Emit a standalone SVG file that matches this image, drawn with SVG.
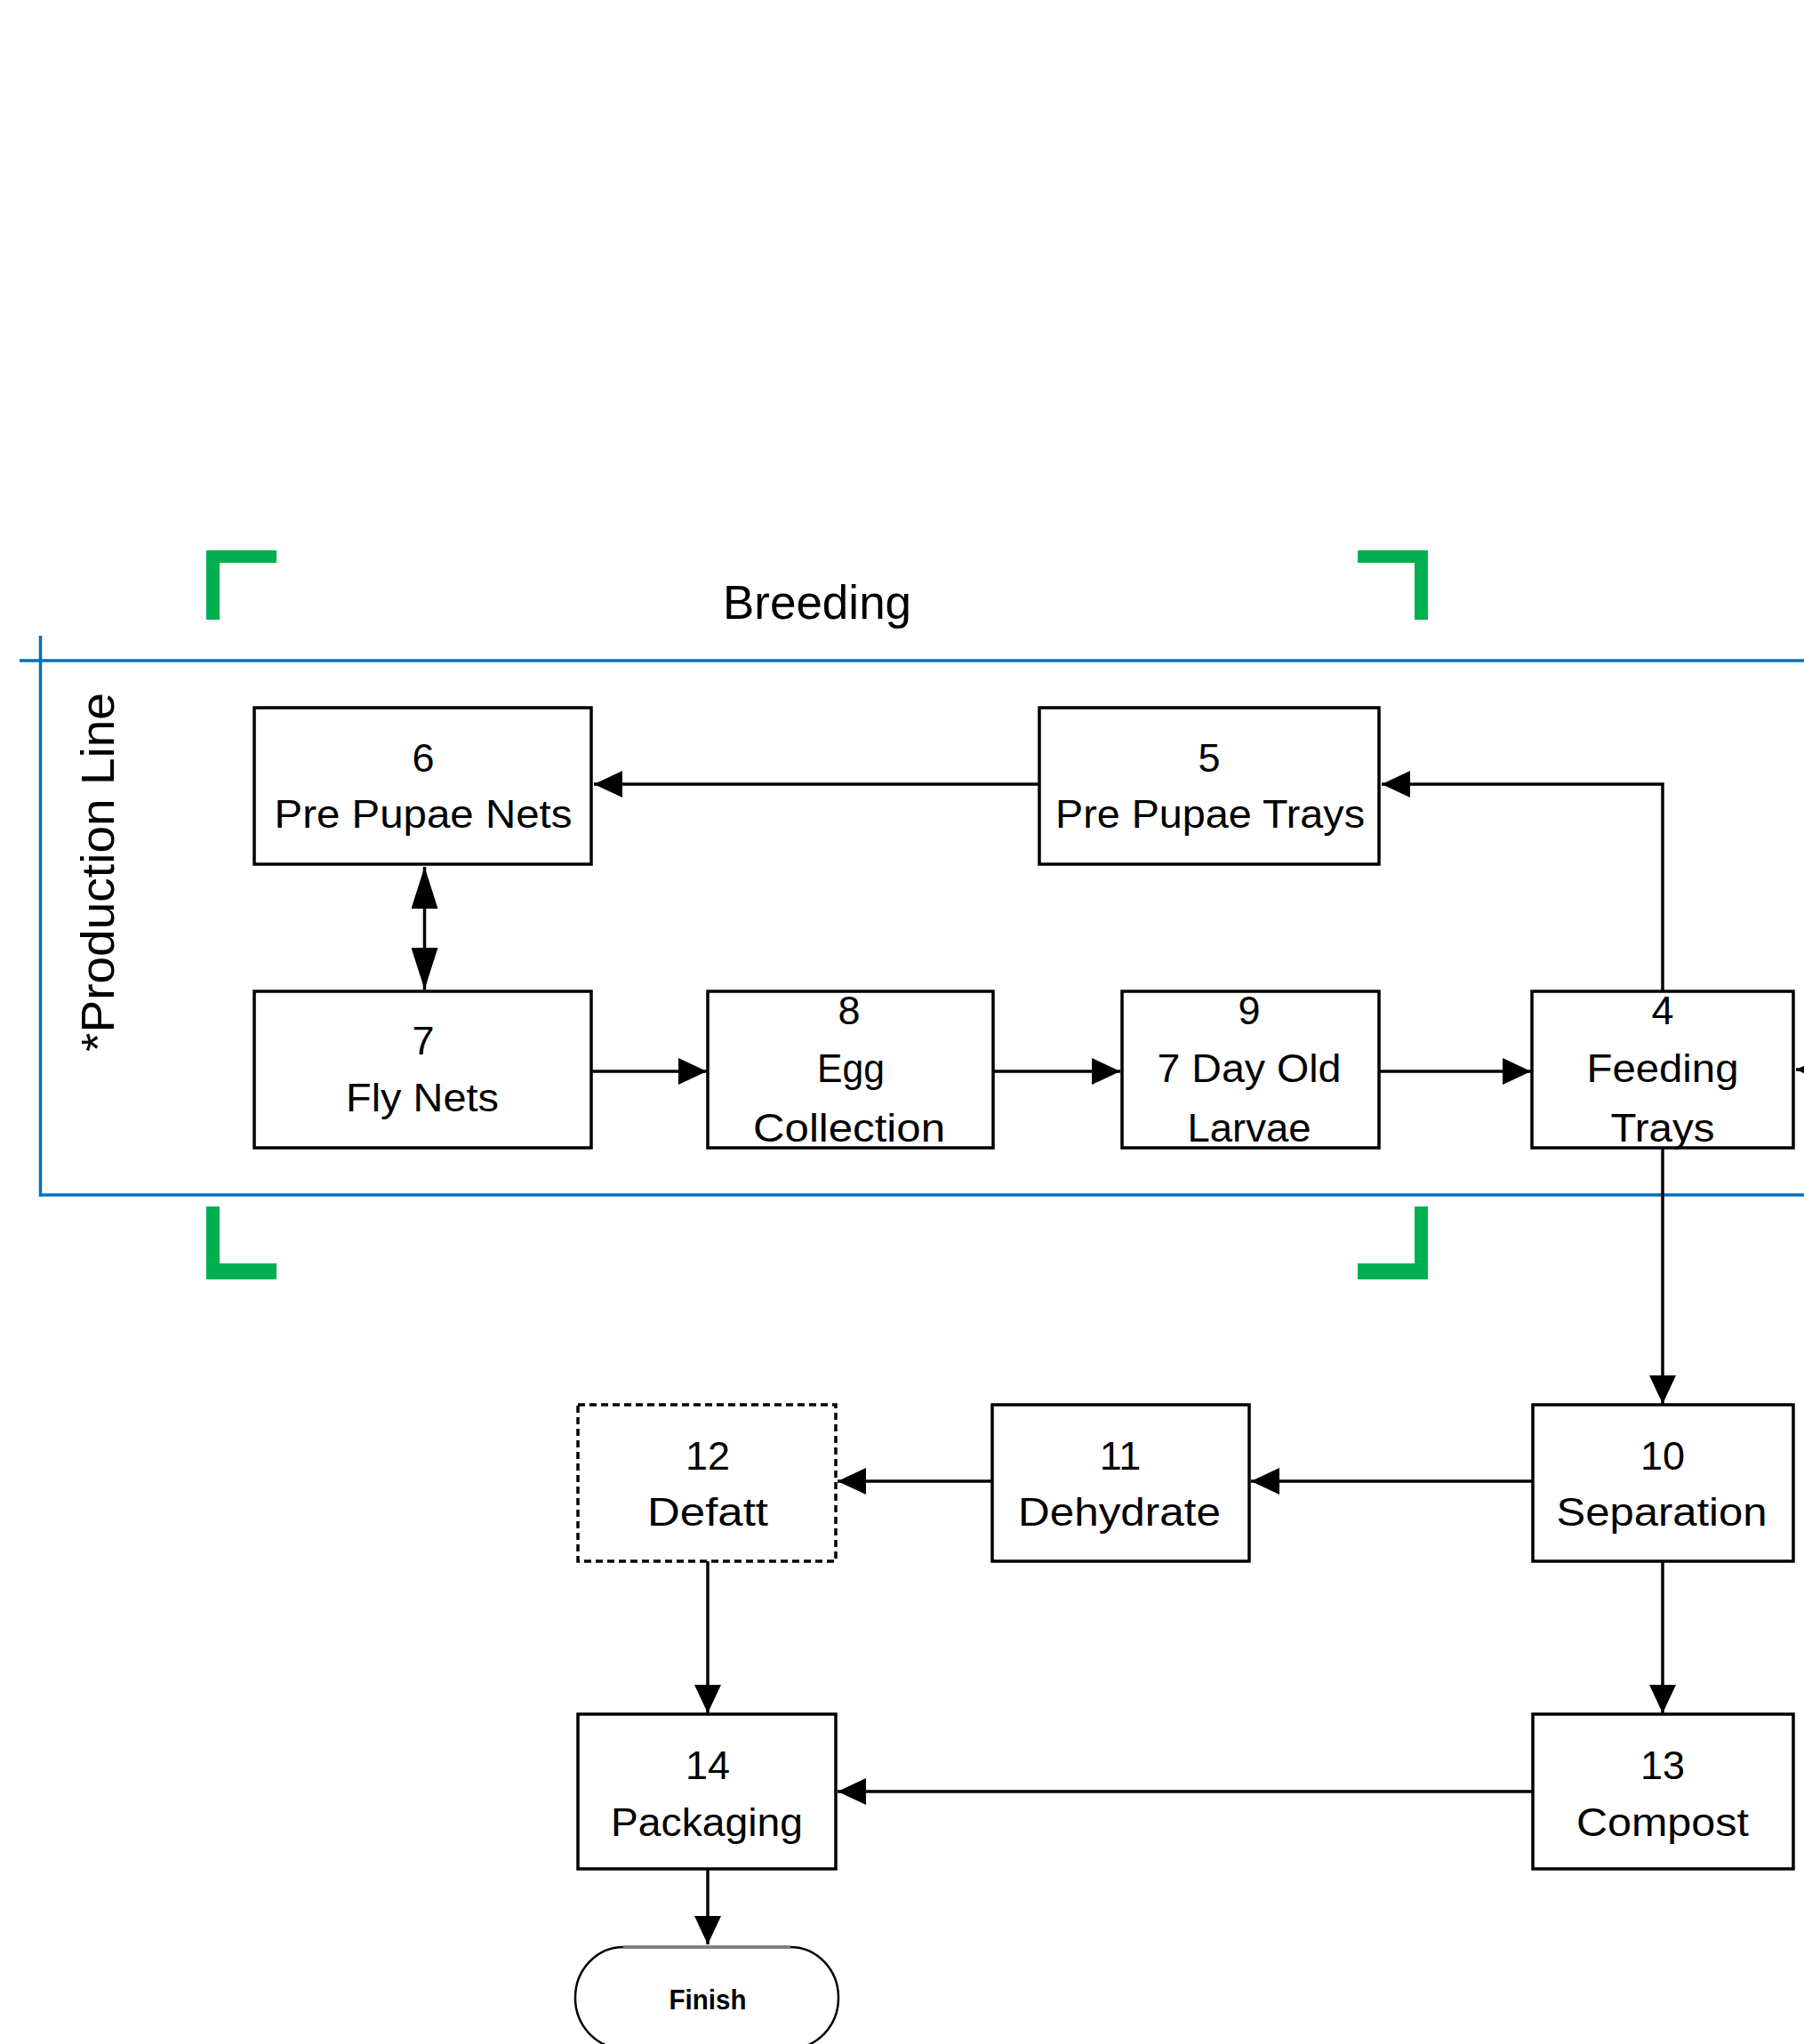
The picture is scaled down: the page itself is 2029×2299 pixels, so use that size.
<svg xmlns="http://www.w3.org/2000/svg" width="2029" height="2299" viewBox="0 0 2029 2299">
<style>
text{font-family:"Liberation Sans",Arial,sans-serif;fill:#000}
.node{fill:#fff;stroke:#000;stroke-width:3.5}
.dash{fill:#fff;stroke:#000;stroke-width:3.5;stroke-dasharray:8 5}
.lbl{font-size:45px;text-anchor:middle}
.con{fill:none;stroke:#000;stroke-width:3.5;marker-end:url(#ah)}
.blue{stroke:#0070C0;stroke-width:3.5;fill:none}
.green{fill:#00B050}
</style>
<defs>
<marker id="ah" markerUnits="userSpaceOnUse" viewBox="0 0 32 32" markerWidth="32" markerHeight="32" refX="32" refY="16" orient="auto">
<path d="M0,1 L32,16 L0,31 z" fill="#000"/>
</marker>
<marker id="ahl" markerUnits="userSpaceOnUse" viewBox="0 0 47 30" markerWidth="47" markerHeight="30" refX="47" refY="15" orient="auto-start-reverse">
<path d="M0,0 L47,15 L0,30 z" fill="#000"/>
</marker>
</defs>
<rect width="2029" height="2299" fill="#fff"/>

<g id="frame">
<line class="blue" x1="22" y1="743" x2="2029" y2="743"/>
<line class="blue" x1="45.5" y1="715" x2="45.5" y2="1346"/>
<line class="blue" x1="45.5" y1="1344" x2="2029" y2="1344"/>
<polygon class="green" points="232,619 311,619 311,633 247,633 247,697 232,697"/>
<polygon class="green" points="1606,619 1527,619 1527,633 1591,633 1591,697 1606,697"/>
<polygon class="green" points="232,1357 247,1357 247,1421 311,1421 311,1439 232,1439"/>
<polygon class="green" points="1606,1357 1591,1357 1591,1421 1527,1421 1527,1439 1606,1439"/>
<text x="919" y="696" font-size="53" text-anchor="middle">Breeding</text>
<text transform="translate(128,981) rotate(-90)" font-size="51" text-anchor="middle" textLength="404" lengthAdjust="spacingAndGlyphs">*Production Line</text>
</g>

<g id="connectors">
<line class="con" x1="1169" y1="882" x2="668" y2="882"/>
<path class="con" d="M1870,1115 V882 H1554"/>
<line x1="477.5" y1="975" x2="477.5" y2="1113" stroke="#000" stroke-width="3.5" marker-start="url(#ahl)" marker-end="url(#ahl)"/>
<line class="con" x1="665" y1="1205" x2="795" y2="1205"/>
<line class="con" x1="1117" y1="1205" x2="1260" y2="1205"/>
<line class="con" x1="1551" y1="1205" x2="1722" y2="1205"/>
<line class="con" x1="2070" y1="1203" x2="2020" y2="1203"/>
<line class="con" x1="1870" y1="1291" x2="1870" y2="1579"/>
<line class="con" x1="1724" y1="1666" x2="1407" y2="1666"/>
<line class="con" x1="1116" y1="1666" x2="942" y2="1666"/>
<line class="con" x1="1870" y1="1756" x2="1870" y2="1927"/>
<line class="con" x1="796" y1="1756" x2="796" y2="1927"/>
<line class="con" x1="1724" y1="2015" x2="942" y2="2015"/>
<line class="con" x1="796" y1="2102" x2="796" y2="2187"/>
</g>

<g id="node6">
<rect class="node" x="286" y="796" width="379" height="176"/>
<text class="lbl" x="476" y="868">6</text>
<text class="lbl" x="476" y="931" textLength="335" lengthAdjust="spacingAndGlyphs">Pre Pupae Nets</text>
</g>
<g id="node5">
<rect class="node" x="1169" y="796" width="382" height="176"/>
<text class="lbl" x="1360" y="868">5</text>
<text class="lbl" x="1361" y="931" textLength="348" lengthAdjust="spacingAndGlyphs">Pre Pupae Trays</text>
</g>
<g id="node7">
<rect class="node" x="286" y="1115" width="379" height="176"/>
<text class="lbl" x="476" y="1186">7</text>
<text class="lbl" x="475" y="1250" textLength="172" lengthAdjust="spacingAndGlyphs">Fly Nets</text>
</g>
<g id="node8">
<rect class="node" x="796" y="1115" width="321" height="176"/>
<text class="lbl" x="955" y="1152">8</text>
<text class="lbl" x="957" y="1217" textLength="76" lengthAdjust="spacingAndGlyphs">Egg</text>
<text class="lbl" x="955" y="1284" textLength="216" lengthAdjust="spacingAndGlyphs">Collection</text>
</g>
<g id="node9">
<rect class="node" x="1262" y="1115" width="289" height="176"/>
<text class="lbl" x="1405" y="1152">9</text>
<text class="lbl" x="1405" y="1217" textLength="207" lengthAdjust="spacingAndGlyphs">7 Day Old</text>
<text class="lbl" x="1405" y="1284" textLength="139" lengthAdjust="spacingAndGlyphs">Larvae</text>
</g>
<g id="node4">
<rect class="node" x="1723" y="1115" width="294" height="176"/>
<text class="lbl" x="1870" y="1152">4</text>
<text class="lbl" x="1870" y="1217" textLength="171" lengthAdjust="spacingAndGlyphs">Feeding</text>
<text class="lbl" x="1870" y="1284" textLength="117" lengthAdjust="spacingAndGlyphs">Trays</text>
</g>
<g id="node12">
<rect class="dash" x="650" y="1580" width="290" height="176"/>
<text class="lbl" x="796" y="1653">12</text>
<text class="lbl" x="796" y="1716" textLength="136" lengthAdjust="spacingAndGlyphs">Defatt</text>
</g>
<g id="node11">
<rect class="node" x="1116" y="1580" width="289" height="176"/>
<text class="lbl" x="1260" y="1653">11</text>
<text class="lbl" x="1259" y="1716" textLength="228" lengthAdjust="spacingAndGlyphs">Dehydrate</text>
</g>
<g id="node10">
<rect class="node" x="1724" y="1580" width="293" height="176"/>
<text class="lbl" x="1870" y="1653">10</text>
<text class="lbl" x="1869" y="1716" textLength="237" lengthAdjust="spacingAndGlyphs">Separation</text>
</g>
<g id="node13">
<rect class="node" x="1724" y="1928" width="293" height="174"/>
<text class="lbl" x="1870" y="2001">13</text>
<text class="lbl" x="1870" y="2065" textLength="194" lengthAdjust="spacingAndGlyphs">Compost</text>
</g>
<g id="node14">
<rect class="node" x="650" y="1928" width="290" height="174"/>
<text class="lbl" x="796" y="2001">14</text>
<text class="lbl" x="795" y="2065" textLength="216" lengthAdjust="spacingAndGlyphs">Packaging</text>
</g>
<g id="finish">
<rect x="647" y="2190" width="296" height="114" rx="54" ry="57" fill="#fff" stroke="#000" stroke-width="2.5"/>
<line x1="701" y1="2190" x2="889" y2="2190" stroke="#808080" stroke-width="4"/>
<text x="796" y="2260" font-size="31" font-weight="bold" text-anchor="middle" textLength="87" lengthAdjust="spacingAndGlyphs">Finish</text>
</g>
</svg>
